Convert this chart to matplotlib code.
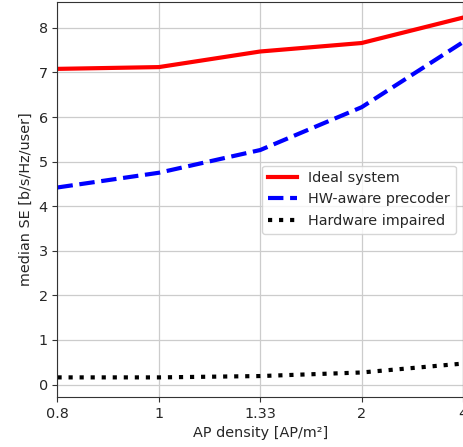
import numpy as np
import matplotlib.pyplot as plt

# AP density categories (equally spaced on the axis)
densities = ['0.8', '1', '1.33', '2', '4']
ideal = [7.08, 7.12, 7.47, 7.66, 8.23]
hw_aware = [4.42, 4.75, 5.26, 6.22, 7.68]
impaired = [0.16, 0.16, 0.19, 0.27, 0.47]

x = np.arange(len(densities))
fs = 10.4

fig = plt.figure(figsize=(4.64, 4.47), dpi=100)
ax = fig.add_axes([57.5 / 464, 1 - 397 / 447, (463 - 57.5) / 464, (397 - 2) / 447])

ax.plot(x, ideal, color='red', lw=3, label='Ideal system')
ax.plot(x, hw_aware, color='blue', lw=3, ls='--', label='HW-aware precoder')
ax.plot(x, impaired, color='black', lw=3, ls=':', label='Hardware impaired')

ax.set_xticks(x)
ax.set_xticklabels(densities)
ax.set_xlim(0, len(densities) - 1)
ax.set_ylim(-0.28, 8.58)
ax.set_yticks(range(0, 9))
ax.grid(True, color='#cccccc', lw=0.9)
ax.set_axisbelow(True)
ax.set_xlabel('AP density [AP/m²]', fontsize=fs, color='#262626')
ax.set_ylabel('median SE [b/s/Hz/user]', fontsize=fs, color='#262626')
ax.tick_params(labelsize=fs, labelcolor='#262626', color='#333333')
for s in ax.spines.values():
    s.set_color('#333333')
leg = ax.legend(loc='center right', fontsize=fs)
for t in leg.get_texts():
    t.set_color('#262626')

fig.savefig('out.png', dpi=100)
